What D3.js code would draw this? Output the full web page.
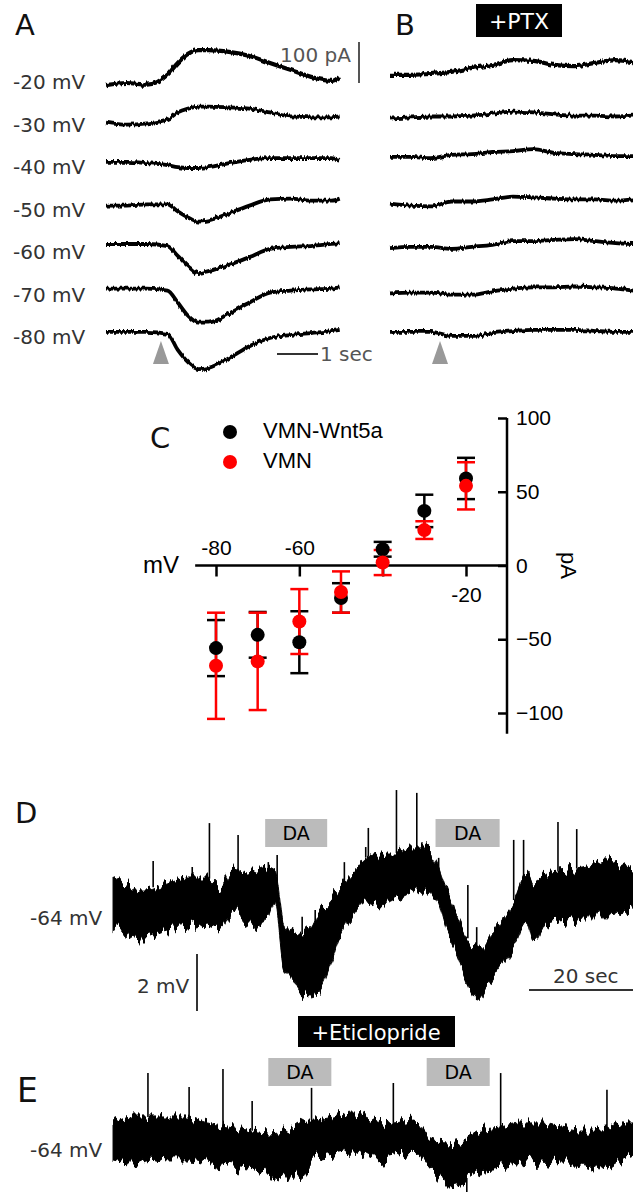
<!DOCTYPE html>
<html>
<head>
<meta charset="utf-8">
<script src="https://cdn.jsdelivr.net/npm/d3@7"></script>
<style>
  body { margin: 0; background: #fff; }
  svg { display: block; }
</style>
</head>
<body>
<svg id="fig" width="633" height="1192"></svg>
<script>
// ---- A / B: evoked currents at each holding potential (pA, per row) ----
var holdingMV = [-20, -30, -40, -50, -60, -70, -80];
var timeA = [0, 0.5, 1, 1.5, 1.75, 2, 2.25, 2.5, 3, 3.5, 4, 4.5, 5, 5.5, 5.7];
var currentA = [
  [-5, 0, -4, 20, 49, 71, 80, 80, 76, 66, 49, 32, 15, 5, 15],
  [7, 2, 5, 15, 32, 41, 46, 46, 44, 41, 32, 22, 20, 20, 22],
  [15, 15, 12, 7, 2, 0, 0, 2, 12, 20, 24, 24, 24, 24, 20],
  [12, 12, 15, 15, -2, -17, -27, -24, -7, 12, 27, 29, 24, 24, 29],
  [22, 22, 22, 17, -7, -32, -49, -44, -29, -10, 10, 15, 17, 22, 24],
  [17, 17, 17, 12, -17, -49, -66, -66, -44, -17, 7, 12, 15, 17, 20],
  [15, 15, 15, 10, -29, -59, -76, -73, -49, -20, 0, 7, 12, 17, 20]
];
var timeB = [0, 0.5, 1, 1.5, 2, 2.5, 3, 3.5, 4, 4.5, 5, 5.5, 5.93];
var currentB = [
  [20, 20, 22, 27, 37, 44, 56, 54, 44, 41, 49, 56, 51],
  [17, 20, 22, 22, 24, 29, 34, 32, 27, 24, 24, 22, 24],
  [27, 27, 24, 32, 34, 39, 41, 46, 37, 34, 32, 29, 29],
  [17, 12, 10, 22, 22, 27, 34, 32, 29, 27, 27, 24, 27],
  [12, 15, 15, 10, 15, 20, 29, 29, 32, 34, 29, 24, 22],
  [5, 7, 7, 2, 2, 10, 17, 20, 20, 22, 20, 17, 12],
  [15, 15, 15, 5, 5, 12, 17, 20, 20, 20, 17, 15, 15]
];
var puffA = 1.34, puffB = 1.22;   // s, grey arrowheads

// ---- C: I-V relation ----
var stepMV = [-80, -70, -60, -50, -40, -30, -20];
var wntMean = [-56, -47, -52, -22, 11, 37, 59];
var wntSem = [19, 15.5, 21, 10, 5, 11, 14];
var vmnMean = [-68, -65, -38, -18, 2, 24, 54];
var vmnSem = [36, 33, 22, 14, 8.5, 6, 16];
var xTicksC = [-80, -60, -40, -20];
var yTicksC = [100, 50, 0, -50, -100];

// ---- D / E: membrane potential (mV from -64 mV rest), time in s ----
var restMV = -64;
var dTime = [0.2, 6, 10.6, 14.4, 18.3, 20.8, 23.3, 26, 29.8, 31.3, 32.9, 34.8, 36.2, 38.1, 40, 41.9, 43.8,
  46.3, 48.8, 51.5, 54.6, 57.3, 59.8, 62.3, 64.2, 66.2, 68.1, 70, 71.9, 74.6, 77.1, 79.6, 81, 83.5,
  87.3, 91.2, 95, 98.8, 100];
var dUpper = [1.44, 0.98, 1.23, 1.44, 1.44, 1.09, 1.75, 1.58, 1.79, 1.68, -0.18, -0.53, -0.6, -0.42, 0.28, 0.63, 1.09,
  1.58, 2.14, 2.28, 2.28, 2.46, 2.46, 1.93, 0.98, 0.04, -0.67, -1.02, -0.77, -0.18, 0.63, 1.58, 1.23, 1.58,
  1.68, 1.79, 2.04, 1.79, 1.68];
var dLower = [-0.32, -0.67, -0.42, -0.32, -0.18, -0.32, 0.28, -0.25, 0.04, 0.53, -1.72, -2.18, -2.63, -2.77, -2.53, -1.65, -0.67,
  0.04, 0.53, 0.39, 0.63, 0.88, 0.98, 0.63, -0.53, -1.37, -2.28, -2.88, -2.42, -1.72, -1.02, -0.18, -0.88, -0.18,
  -0.07, 0.04, 0.04, 0.18, 0.46];
var dSpikeTime = [7.9, 15.4, 18.7, 24.2, 30, 31.7, 36.5, 39, 44.6, 48.7, 49.2, 54.6, 58.5, 62.7, 68.3, 70, 77.1, 79, 85.6, 89.2];
var dSpikePeak = [2.0, 1.79, 3.33, 2.91, 1.96, 2.21, 0.04, 0.28, 1.96, 2.49, 3.16, 4.49, 4.39, 2.11, 1.16, -0.32, 2.74, 2.74, 3.37, 3.12];
var dPuffs = [[29.4, 41.3], [62.1, 74.4]];

var eTime = [0.2, 4, 7.3, 10.6, 14.4, 18.3, 22.1, 26, 29.8, 33.7, 37.5, 38.7, 42.5, 46.3, 50.2, 54, 57.9,
  61.2, 64.2, 67.5, 70.8, 74.6, 78.5, 82.3, 86.2, 90, 93.8, 97.7, 100];
var eUpper = [0.95, 1.16, 1.16, 1.16, 1.16, 0.95, 0.81, 0.7, 0.6, 0.7, 1.05, 1.05, 1.16, 1.3, 1.05, 0.95, 1.05,
  0.35, 0.25, 0.35, 0.7, 0.81, 0.95, 0.95, 0.81, 0.7, 0.7, 0.95, 0.95];
var eLower = [-0.35, -0.46, -0.25, -0.35, -0.35, -0.46, -0.6, -0.7, -0.81, -0.95, -0.6, -0.25, -0.11, 0, -0.35, -0.25, -0.11,
  -0.81, -1.16, -1.05, -0.7, -0.6, -0.46, -0.35, -0.46, -0.46, -0.7, -0.35, -0.18];
var eSpikeTime = [6.9, 14.8, 21.3, 26.9, 38.3, 54, 74.6, 95, 68.1];
var eSpikePeak = [2.7, 2.21, 2.84, 1.72, 2.18, 2.35, 2.7, 2.11, -1.47];
var ePuffs = [[30, 42.1], [60.4, 72.5]];

var svg = d3.select("#fig");
var sans = "DejaVu Sans", arial = "Liberation Sans";

// recording-noise texture: vertical-only jitter of the drawn traces
var defs = svg.append("defs");
function jitter(id, freq, octaves, amount) {
  var f = defs.append("filter").attr("id", id)
    .attr("x", "-2%").attr("y", "-40%").attr("width", "104%").attr("height", "180%");
  f.append("feTurbulence").attr("type", "fractalNoise").attr("baseFrequency", freq)
    .attr("numOctaves", octaves).attr("seed", 4).attr("result", "n");
  f.append("feColorMatrix").attr("in", "n").attr("type", "matrix")
    .attr("values", "0 0 0 0 0.5  0 1 0 0 0  0 0 1 0 0  0 0 0 0 1").attr("result", "m");
  f.append("feDisplacementMap").attr("in", "SourceGraphic").attr("in2", "m")
    .attr("scale", amount).attr("xChannelSelector", "R").attr("yChannelSelector", "G");
}
jitter("noiseA", "0.45 0.02", 2, 5);
jitter("noiseD", "0.22 0.008", 3, 24);

function label(x, y, txt, size, opt) {
  opt = opt || {};
  return svg.append("text").attr("x", x).attr("y", y).text(txt)
    .attr("font-family", opt.family || sans).attr("font-size", size)
    .attr("fill", opt.fill || "#333").attr("text-anchor", opt.anchor || "start");
}

// ================= A & B =================
var rowY = d3.scalePoint().domain(holdingMV).range([83, 338]);
var amp = d3.scaleLinear().domain([0, 100]).range([0, -41]);
var xA = d3.scaleLinear().domain([0, 1]).range([106, 147]);
var xB = d3.scaleLinear().domain([0, 1]).range([390, 431]);

function drawTraces(times, data, xs) {
  var g = svg.append("g").attr("filter", "url(#noiseA)");
  data.forEach(function(tr, r) {
    var base = rowY(holdingMV[r]);
    var line = d3.line()
      .x(function(d, i) { return xs(times[i]); })
      .y(function(d) { return base + amp(d); })
      .curve(d3.curveMonotoneX);
    g.append("path").attr("d", line(tr)).attr("fill", "none")
      .attr("stroke", "#000").attr("stroke-width", r === 0 ? 4.2 : 3.8).attr("stroke-linejoin", "round");
  });
}
drawTraces(timeA, currentA, xA);
drawTraces(timeB, currentB, xB);

holdingMV.forEach(function(v) { label(13, rowY(v) + 6, v + " mV", 20); });

label(15, 35, "A", 29, { fill: "#111" });
label(395, 35, "B", 29, { fill: "#111" });
svg.append("rect").attr("x", 476).attr("y", 4).attr("width", 86).attr("height", 33).attr("fill", "#000");
label(519, 29, "+PTX", 22, { fill: "#fff", anchor: "middle" });

// scale bars
svg.append("line").attr("x1", 359).attr("x2", 359).attr("y1", 42).attr("y2", 42 - amp(100))
  .attr("stroke", "#555").attr("stroke-width", 2);
label(280, 62, "100 pA", 20, { fill: "#555" });
svg.append("line").attr("x1", 277).attr("x2", 277 + xA(1) - xA(0)).attr("y1", 354).attr("y2", 354)
  .attr("stroke", "#333").attr("stroke-width", 2);
label(320, 361, "1 sec", 20, { fill: "#555" });

function arrow(x) {
  svg.append("path").attr("d", "M" + x + ",341 L" + (x - 8) + ",364 L" + (x + 8) + ",364 Z").attr("fill", "#999");
}
arrow(xA(puffA));
arrow(xB(puffB));

// ================= C =================
var xC = d3.scaleLinear().domain([-80, -20]).range([216, 466]);
var yC = d3.scaleLinear().domain([-100, 100]).range([713, 418]);
var y0 = yC(0), xAxisC = 507;

svg.append("line").attr("x1", xC(-85)).attr("x2", xAxisC).attr("y1", y0).attr("y2", y0)
  .attr("stroke", "#000").attr("stroke-width", 2.5);
var gx = svg.append("g").attr("transform", "translate(0," + y0 + ")")
  .call(d3.axisBottom(xC).tickValues(xTicksC).tickSize(11).tickFormat(function(d) { return d; }));
gx.select(".domain").remove();
gx.selectAll(".tick line").attr("stroke", "#000").attr("stroke-width", 2.5);
gx.selectAll(".tick text").attr("font-family", arial).attr("font-size", 21).attr("fill", "#000")
  .attr("dy", null)
  .attr("y", function(d) { return d === -20 ? 36 : -11; })
  .style("display", function(d) { return d === -40 ? "none" : null; });

svg.append("line").attr("x1", xAxisC).attr("x2", xAxisC).attr("y1", yC(100)).attr("y2", yC(-114))
  .attr("stroke", "#000").attr("stroke-width", 2.5);
var gy = svg.append("g").attr("transform", "translate(" + xAxisC + ",0)")
  .call(d3.axisRight(yC).tickValues(yTicksC).tickSize(-9).tickPadding(9).tickSizeOuter(0));
gy.select(".domain").remove();
gy.selectAll(".tick line").attr("stroke", "#000").attr("stroke-width", 2.5);
gy.selectAll(".tick text").attr("font-family", arial).attr("font-size", 21).attr("fill", "#000");

label(143, 573, "mV", 24, { family: arial, fill: "#000" });
svg.append("text").attr("transform", "translate(561," + y0 + ") rotate(90)")
  .attr("text-anchor", "middle").attr("font-family", arial).attr("font-size", 22).text("pA");
label(150, 448, "C", 29, { fill: "#111" });

function errBars(means, sems, col) {
  var g = svg.append("g").attr("stroke", col).attr("stroke-width", 2.5);
  stepMV.forEach(function(v, i) {
    var x = xC(v), hi = yC(means[i] + sems[i]), lo = yC(means[i] - sems[i]);
    g.append("line").attr("x1", x).attr("x2", x).attr("y1", hi).attr("y2", lo);
    g.append("line").attr("x1", x - 9).attr("x2", x + 9).attr("y1", hi).attr("y2", hi);
    g.append("line").attr("x1", x - 9).attr("x2", x + 9).attr("y1", lo).attr("y2", lo);
  });
}
function dots(means, col) {
  svg.append("g").selectAll("circle").data(means).enter().append("circle")
    .attr("cx", function(d, i) { return xC(stepMV[i]); })
    .attr("cy", function(d) { return yC(d); })
    .attr("r", 7).attr("fill", col);
}
errBars(wntMean, wntSem, "#000");
errBars(vmnMean, vmnSem, "#f00");
dots(wntMean, "#000");
dots(vmnMean, "#f00");

svg.append("circle").attr("cx", 230).attr("cy", 432).attr("r", 7).attr("fill", "#000");
svg.append("circle").attr("cx", 230).attr("cy", 462).attr("r", 7).attr("fill", "#f00");
label(263, 438, "VMN-Wnt5a", 22, { family: arial, fill: "#000" });
label(263, 468, "VMN", 22, { family: arial, fill: "#000" });

// ================= D & E =================
var xD = d3.scaleLinear().domain([0, 100]).range([112, 633]);
var mv = d3.scaleLinear().domain([0, 2]).range([0, -57]);

function drawVm(base, times, up, lo, spT, spP, puffs, boxY) {
  var area = d3.area()
    .x(function(d, i) { return xD(times[i]); })
    .y0(function(d, i) { return base + mv(lo[i]); })
    .y1(function(d) { return base + mv(d); })
    .curve(d3.curveMonotoneX);
  svg.append("path").attr("d", area(up)).attr("fill", "#000")
    .attr("stroke", "#000").attr("stroke-width", 1).attr("filter", "url(#noiseD)");
  var upAt = d3.scaleLinear().domain(times).range(up);
  var loAt = d3.scaleLinear().domain(times).range(lo);
  spT.forEach(function(t, i) {
    var from = spP[i] >= 0 ? upAt(t) : loAt(t);
    svg.append("line").attr("x1", xD(t)).attr("x2", xD(t))
      .attr("y1", base + mv(from)).attr("y2", base + mv(spP[i]))
      .attr("stroke", "#000").attr("stroke-width", 1.6);
  });
  puffs.forEach(function(p) {
    svg.append("rect").attr("x", xD(p[0])).attr("y", boxY)
      .attr("width", xD(p[1]) - xD(p[0])).attr("height", 28).attr("fill", "#bbb");
    label((xD(p[0]) + xD(p[1])) / 2, boxY + 21, "DA", 19, { fill: "#000", anchor: "middle" });
  });
  label(30, base + 7, restMV + " mV", 20);
}
drawVm(918, dTime, dUpper, dLower, dSpikeTime, dSpikePeak, dPuffs, 819);
drawVm(1150, eTime, eUpper, eLower, eSpikeTime, eSpikePeak, ePuffs, 1058);

label(15, 823, "D", 29, { fill: "#111" });
label(17, 1102, "E", 33, { fill: "#111" });

// scale bars
svg.append("line").attr("x1", 197).attr("x2", 197).attr("y1", 954).attr("y2", 954 - mv(2))
  .attr("stroke", "#333").attr("stroke-width", 2);
label(137, 993, "2 mV", 20);
svg.append("line").attr("x1", 529).attr("x2", 529 + xD(20) - xD(0)).attr("y1", 990).attr("y2", 990)
  .attr("stroke", "#333").attr("stroke-width", 2);
label(553, 983, "20 sec", 20);

svg.append("rect").attr("x", 298).attr("y", 1016).attr("width", 157).attr("height", 31).attr("fill", "#000");
label(376, 1040, "+Eticlopride", 21, { fill: "#fff", anchor: "middle" });
</script>
</body>
</html>
